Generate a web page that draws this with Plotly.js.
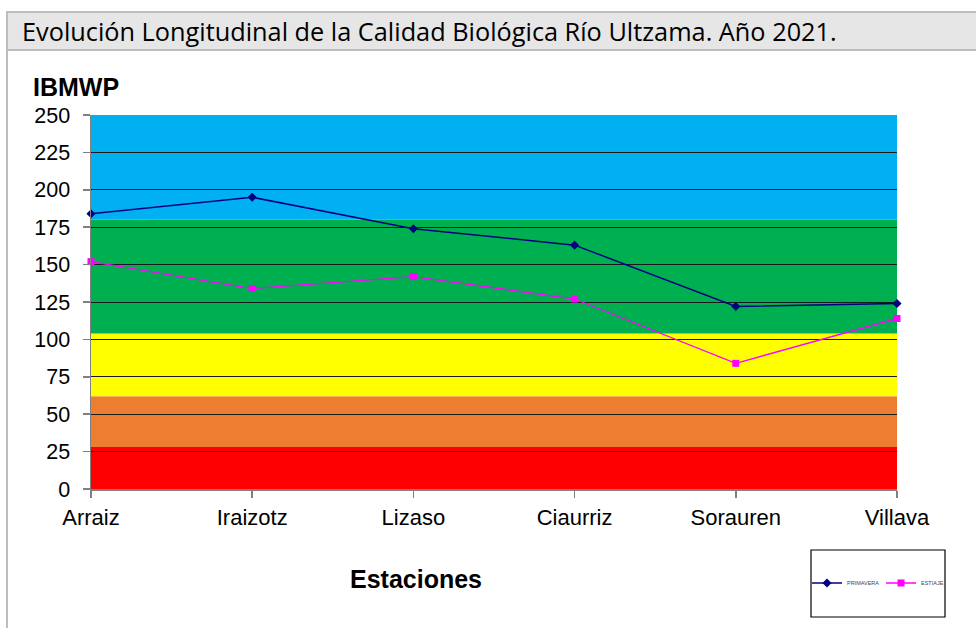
<!DOCTYPE html>
<html>
<head>
<meta charset="utf-8">
<script src="https://cdn.plot.ly/plotly-3.0.1.min.js"></script>
<style>html,body{margin:0;padding:0;background:#fff;}#chart{width:976px;height:628px;}</style>
</head>
<body>
<div id="chart"></div>
<script>
const categories = ['Arraiz', 'Iraizotz', 'Lizaso', 'Ciaurriz', 'Sorauren', 'Villava'];
const primavera = [184, 195, 174, 163, 122, 124];
const estiaje = [152, 134, 142, 127, 84, 114];
const bandLimits = [0, 28, 62, 104, 180, 250];
const bandColors = ['#ff0000', '#ed7d31', '#ffff00', '#00b050', '#00b0f0'];
const yTicks = [0, 25, 50, 75, 100, 125, 150, 175, 200, 225, 250];

const W = 976, H = 628;
const L = 91, R = 897, T = 115, B = 489;
const px = v => (v - L) / (R - L);
const py = v => (B - v) / (B - T);

const shapes = [];
for (let i = 0; i < bandColors.length; i++) {
  shapes.push({type: 'rect', layer: 'below', xref: 'paper', yref: 'y',
    x0: 0, x1: 1, y0: bandLimits[i], y1: bandLimits[i + 1],
    fillcolor: bandColors[i], line: {width: 0}});
}
// title bar
shapes.push({type: 'rect', xref: 'paper', yref: 'paper', x0: px(7), x1: px(990), y0: py(12), y1: py(50),
  fillcolor: '#e6e6e6', line: {color: '#bdbdbd', width: 2}, layer: 'below'});
// left frame line
shapes.push({type: 'line', xref: 'paper', yref: 'paper', x0: px(7), x1: px(7), y0: py(50), y1: py(640),
  line: {color: '#bdbdbd', width: 2}});
// legend box
shapes.push({type: 'rect', xref: 'paper', yref: 'paper', x0: px(811), x1: px(945), y0: py(550), y1: py(617),
  line: {color: '#000', width: 1.2}, fillcolor: 'rgba(0,0,0,0)'});

const traces = [
  {x: categories, y: primavera, name: 'PRIMAVERA', type: 'scatter', mode: 'lines+markers',
   line: {color: '#000080', width: 1.5}, marker: {symbol: 'diamond', size: 7, color: '#000080'}, cliponaxis: false},
  {x: categories, y: estiaje, name: 'ESTIAJE', type: 'scatter', mode: 'lines+markers',
   line: {color: '#ff00ff', width: 1.3}, marker: {symbol: 'square', size: 7, color: '#ff00ff'}, cliponaxis: false}
];

const layout = {
  width: W, height: H,
  margin: {l: L, r: W - R, t: T, b: H - B, pad: 0, autoexpand: false},
  paper_bgcolor: '#ffffff', plot_bgcolor: 'rgba(0,0,0,0)',
  title: {text: 'Evolución Longitudinal de la Calidad Biológica Río Ultzama. Año 2021.',
    x: 22 / W, xanchor: 'left', xref: 'container', y: 1 - 32 / H, yanchor: 'middle', yref: 'container',
    font: {family: 'Open Sans', size: 25.3, color: '#000'}},
  font: {family: 'Arial, Liberation Sans', color: '#000'},
  showlegend: true,
  legend: {orientation: 'h', x: px(807), xanchor: 'left', y: py(583), yanchor: 'middle',
    font: {family: 'Arial, Liberation Sans', size: 5.5, color: '#444'}, bgcolor: 'rgba(0,0,0,0)',
    itemwidth: 30, entrywidth: 29, traceorder: 'normal'},
  xaxis: {type: 'category', range: [0, categories.length - 1], showgrid: false, zeroline: false,
    showline: true, linecolor: '#808080', linewidth: 1.5,
    ticks: 'outside', ticklen: 7, tickcolor: '#808080', tickwidth: 1.5,
    tickfont: {size: 22, family: 'Arial, Liberation Sans', color: '#000'}, ticklabelstandoff: 1, fixedrange: true},
  yaxis: {range: [0, 250], tickvals: yTicks, ticktext: yTicks.map(String),
    showgrid: true, gridcolor: '#1a1a1a', gridwidth: 1, zeroline: false,
    showline: true, linecolor: '#808080', linewidth: 1.5,
    ticks: 'outside', ticklen: 7, tickcolor: '#808080', tickwidth: 1.5,
    tickfont: {size: 21.5, family: 'Arial, Liberation Sans', color: '#000'}, ticklabelstandoff: 8, fixedrange: true},
  shapes: shapes,
  annotations: [
    {text: '<b>IBMWP</b>', xref: 'paper', yref: 'paper', x: px(31), y: py(87), xanchor: 'left', yanchor: 'middle',
     showarrow: false, font: {size: 25, family: 'Arial, Liberation Sans', color: '#000'}},
    {text: '<b>Estaciones</b>', xref: 'paper', yref: 'paper', x: px(416), y: py(579), xanchor: 'center', yanchor: 'middle',
     showarrow: false, font: {size: 25, family: 'Arial, Liberation Sans', color: '#000'}}
  ]
};

Plotly.newPlot('chart', traces, layout, {displayModeBar: false, staticPlot: true});
</script>
</body>
</html>
